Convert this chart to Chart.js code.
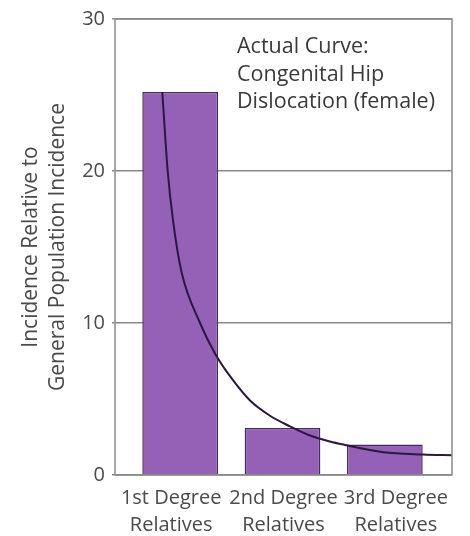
<!DOCTYPE html>
<html>
<head>
<meta charset="utf-8">
<script src="https://cdn.jsdelivr.net/npm/chart.js@4"></script>
<style>
    html, body { margin: 0; padding: 0; background: #fff; }
    #wrap { width: 470px; height: 536px; position: relative; }
</style>
</head>
<body>
<div id="wrap"><canvas id="chart"></canvas></div>
<script>
// categories and bar heights
const categories = [['1st Degree', 'Relatives'], ['2nd Degree', 'Relatives'], ['3rd Degree', 'Relatives']];
const barValues = [25.2, 3.1, 2.0];
const yTicks = [0, 10, 20, 30];

// "actual curve" (x runs 0..3 across the plot)
const curveX = [0.421, 0.469, 0.519, 0.594, 0.757, 0.890, 1.024, 1.202, 1.380, 1.558, 1.736, 1.914, 2.032, 2.388, 2.745, 3.0];
const curveY = [25.2, 20.0, 16.6, 13.3, 10.0, 8.0, 6.5, 4.9, 3.9, 3.2, 2.6, 2.2, 2.0, 1.5, 1.35, 1.3];

const noteLines = ['Actual Curve:', 'Congenital Hip', 'Dislocation (female)'];

const FONT = "'Open Sans', 'DejaVu Sans', sans-serif";

// the drawn bars sit a little inside the label slots, so the bar axis is narrowed
const barAxisPlugin = {
    id: 'barAxis',
    afterLayout(chart) {
        const s = chart.scales.xb;
        const area = chart.chartArea;
        s.left = area.left + 14;
        s.right = area.right - 16;
        s.width = s.right - s.left;
        s.configure();
    }
};

// box round the plot and the note in the corner
const framePlugin = {
    id: 'frame',
    afterDatasetsDraw(chart) {
        const { ctx, chartArea } = chart;
        ctx.save();
        ctx.strokeStyle = '#8a8a8a';
        ctx.lineWidth = 1.5;
        ctx.strokeRect(chartArea.left, chartArea.top, chartArea.right - chartArea.left, chartArea.bottom - chartArea.top);
        ctx.fillStyle = '#3a3a3a';
        ctx.font = '21.5px ' + FONT;
        ctx.textBaseline = 'alphabetic';
        noteLines.forEach((line, i) => {
            ctx.fillText(line, chartArea.left + 122, chartArea.top + 34 + i * 27.5);
        });
        ctx.restore();
    }
};

new Chart(document.getElementById('chart'), {
    type: 'bar',
    data: {
        labels: categories,
        datasets: [{
            type: 'line',
            data: curveX.map((x, i) => ({ x: x, y: curveY[i] })),
            xAxisID: 'xc',
            borderColor: '#2b1740',
            borderWidth: 2,
            pointRadius: 0,
            cubicInterpolationMode: 'monotone',
            fill: false,
            order: 0
        }, {
            data: barValues,
            xAxisID: 'xb',
            backgroundColor: '#9461b6',
            borderColor: '#4a2866',
            borderWidth: 1.5,
            grouped: false,
            barPercentage: 0.74,
            categoryPercentage: 1,
            order: 1
        }]
    },
    options: {
        responsive: true,
        maintainAspectRatio: false,
        animation: false,
        layout: { padding: { top: 18, right: 18, left: 0, bottom: 0 } },
        plugins: {
            legend: { display: false },
            tooltip: { enabled: false }
        },
        scales: {
            x: {
                offset: true,
                grid: { display: false },
                border: { display: false },
                ticks: { color: '#4a4a4a', font: { family: FONT, size: 20, lineHeight: 1.35 }, padding: 2, maxRotation: 0, autoSkip: false },
                afterFit(s) { s.height = 61; }
            },
            xb: {
                type: 'category',
                display: false,
                offset: true
            },
            xc: {
                type: 'linear',
                display: false,
                offset: false,
                min: 0,
                max: 3
            },
            y: {
                min: 0,
                max: 30,
                afterBuildTicks(s) { s.ticks = yTicks.map(v => ({ value: v })); },
                grid: { color: '#8a8a8a', lineWidth: 1.5, tickLength: 3 },
                border: { display: false },
                ticks: { color: '#4a4a4a', font: { family: FONT, size: 20 }, padding: 7 },
                title: {
                    display: true,
                    text: ['Incidence Relative to', 'General Population Incidence'],
                    color: '#4a4a4a',
                    font: { family: FONT, size: 21, lineHeight: 1.3 },
                    padding: { top: 17, bottom: 0 }
                },
                afterFit(s) { s.width = 115; }
            }
        }
    },
    plugins: [barAxisPlugin, framePlugin]
});
</script>
</body>
</html>
